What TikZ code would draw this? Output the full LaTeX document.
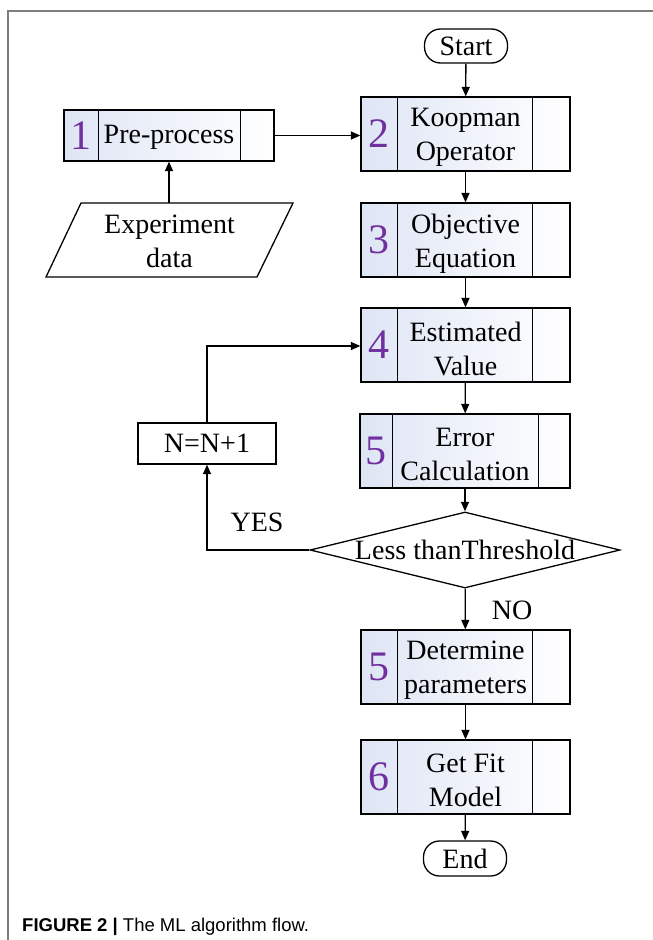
\documentclass[tikz,border=0pt]{standalone}
\usepackage{fontspec}
\setmainfont{Liberation Serif}
\newfontfamily\capfont{Liberation Sans}
\usetikzlibrary{calc,shapes.geometric,arrows.meta}
\definecolor{numpurple}{RGB}{112,48,160}
\definecolor{cellblue}{RGB}{222,229,244}
\definecolor{framegray}{RGB}{125,125,125}
\begin{document}
\begin{tikzpicture}[x=1pt,y=-1pt,
  every node/.style={font=\fontsize{28}{34}\selectfont, align=center},
  procbox/.style={draw, line width=1.3pt, minimum width=209pt, minimum height=74pt,
    inner sep=0pt, left color=cellblue, right color=white},
  numlabel/.style={font=\fontsize{42}{42}\selectfont, text=numpurple, inner sep=0pt},
  boxtext/.style={inner sep=0pt},
  terminal/.style={draw, line width=1.3pt, rounded corners=16pt, minimum width=83pt,
    minimum height=34pt, inner sep=0pt},
  plainbox/.style={draw, line width=1.3pt, inner sep=0pt},
  flow/.style={line width=1.3pt, -{Triangle[length=9.5pt,width=8pt]}},
  divider/.style={line width=1.3pt}
]
\useasboundingbox (0,0) rectangle (653,940);

% frame
\draw[framegray, line width=1.2pt] (653,11) -- (8,11) -- (8,940);

% main column
\node[terminal] (start) at (466,46) {Start};

\node[procbox] (b2) at (465.5,134) {};
\node[boxtext] (t2) at ($(b2.center)+(0,3.5)$) {Koopman\\Operator};
\node[numlabel] (n2) at ($(b2.west)+(18.5,0)$) {2};
\draw[divider] ($(b2.north west)+(37,0)$) -- ($(b2.south west)+(37,0)$);
\draw[divider] ($(b2.north east)+(-38,0)$) -- ($(b2.south east)+(-38,0)$);

\node[procbox] (b3) at (465.5,240) {};
\node[boxtext] (t3) at ($(b3.center)+(0,3.5)$) {Objective\\Equation};
\node[numlabel] (n3) at ($(b3.west)+(18.5,0)$) {3};
\draw[divider] ($(b3.north west)+(37,0)$) -- ($(b3.south west)+(37,0)$);
\draw[divider] ($(b3.north east)+(-38,0)$) -- ($(b3.south east)+(-38,0)$);

\node[procbox] (b4) at (465.5,345) {};
\node[boxtext] (t4) at ($(b4.center)+(0,3.5)$) {Estimated\\Value};
\node[numlabel] (n4) at ($(b4.west)+(18.5,0)$) {4};
\draw[divider] ($(b4.north west)+(37,0)$) -- ($(b4.south west)+(37,0)$);
\draw[divider] ($(b4.north east)+(-38,0)$) -- ($(b4.south east)+(-38,0)$);

\node[procbox, minimum width=210pt] (b5) at (465,451) {};
\node[boxtext] (t5) at ($(b5.center)+(0,3.5)$) {Error\\Calculation};
\node[numlabel] (n5) at ($(b5.west)+(16.5,0)$) {5};
\draw[divider] ($(b5.north west)+(33,0)$) -- ($(b5.south west)+(33,0)$);
\draw[divider] ($(b5.north east)+(-32,0)$) -- ($(b5.south east)+(-32,0)$);

\node[diamond, draw, line width=1.3pt, minimum width=310pt, minimum height=76pt,
      inner sep=0pt] (dec) at (465,550) {};
\node[inner sep=0pt] (dectext) at (dec.center) {Less thanThreshold};

\node[procbox] (b5b) at (465.5,667) {};
\node[boxtext] (t5b) at ($(b5b.center)+(0,3.5)$) {Determine\\parameters};
\node[numlabel] (n5b) at ($(b5b.west)+(18.5,0)$) {5};
\draw[divider] ($(b5b.north west)+(37,0)$) -- ($(b5b.south west)+(37,0)$);
\draw[divider] ($(b5b.north east)+(-38,0)$) -- ($(b5b.south east)+(-38,0)$);

\node[procbox] (b6) at (465.5,777) {};
\node[boxtext] (t6) at ($(b6.center)+(0,3.5)$) {Get Fit\\Model};
\node[numlabel] (n6) at ($(b6.west)+(18.5,0)$) {6};
\draw[divider] ($(b6.north west)+(37,0)$) -- ($(b6.south west)+(37,0)$);
\draw[divider] ($(b6.north east)+(-38,0)$) -- ($(b6.south east)+(-38,0)$);

\node[terminal, minimum height=35pt] (end) at (465,858.5) {End};

% input branch
\node[procbox, minimum width=210pt, minimum height=51pt] (b1) at (169,135.5) {};
\node[boxtext] (t1) at ($(b1.center)+(0,1.5)$) {Pre-process};
\node[numlabel] (n1) at ($(b1.west)+(17.5,0)$) {1};
\draw[divider] ($(b1.north west)+(35,0)$) -- ($(b1.south west)+(35,0)$);
\draw[divider] ($(b1.north east)+(-34,0)$) -- ($(b1.south east)+(-34,0)$);

\draw[line width=1.3pt] (46,277) -- (81,203) -- (293,203) -- (257,277) -- cycle;
\node (data) at (169.5,241) {Experiment\\data};
\coordinate (datatop) at (169,203);

% loop counter
\node[plainbox, minimum width=138pt, minimum height=41pt] (cnt) at (207,443.5) {N=N+1};
\coordinate (loopcorner) at (207,346);
\coordinate (yescorner) at (207,550);

% labels on branches
\node (yes) at (257,522) {YES};
\node (no) at (512,610) {NO};

% connectors
\draw[flow] (start) -- (b2);
\draw[flow] (b1.east) -- (b1.east -| b2.west);
\draw[flow] (datatop) -- (datatop |- b1.south);
\draw[flow] (b2) -- (b3);
\draw[flow] (b3) -- (b4);
\draw[flow] (b4) -- (b5);
\draw[flow] (b5) -- (dec);
\draw[flow] (dec) -- (b5b);
\draw[flow] (b5b) -- (b6);
\draw[flow] (b6) -- (end);
\draw[flow] (dec.west) -- (yescorner) -- (cnt.south);
\draw[flow] (cnt.north) -- (loopcorner) -- (loopcorner -| b4.west);

% caption
\node[anchor=base west, inner sep=0pt, font=\capfont\fontsize{18.5}{21}\selectfont]
  (caption) at (22,931) {\textbf{FIGURE 2 |} The ML algorithm flow.};
\end{tikzpicture}
\end{document}
